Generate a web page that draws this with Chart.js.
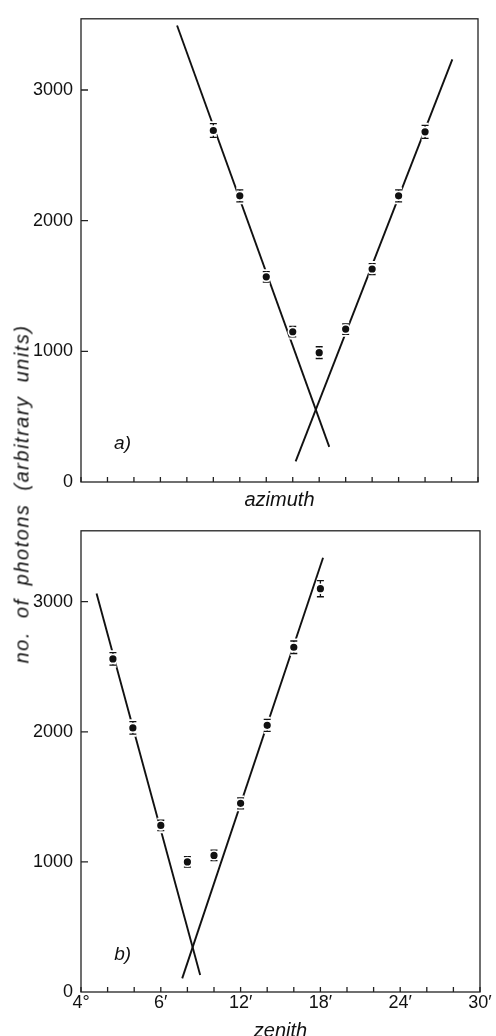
<!DOCTYPE html>
<html>
<head>
<meta charset="utf-8">
<script src="https://cdn.jsdelivr.net/npm/chart.js@4.4.0/dist/chart.umd.min.js"></script>
<style>
  body { margin: 0; background: #fff; }
  #wrap { position: relative; width: 496px; height: 1036px; }
  .box { position: absolute; left: 0; width: 496px; }
  #topBox { top: 0; height: 512px; }
  #botBox { top: 512px; height: 524px; }
  #ytitle {
    position: absolute; left: 22px; top: 494px;
    transform: translate(-50%, -50%) rotate(-90deg);
    font: italic 20px "Liberation Sans", Arial, sans-serif;
    letter-spacing: 1.5px; word-spacing: 6px;
    white-space: nowrap; color: #111;
  }
</style>
</head>
<body>
<div id="wrap">
  <div class="box" id="topBox"><canvas id="azChart"></canvas></div>
  <div class="box" id="botBox"><canvas id="zenChart"></canvas></div>
  <div id="ytitle">no. of photons (arbitrary units)</div>
</div>
<script>
// x in arc minutes past 4°
const tickValues = [0, 6, 12, 18, 24, 30];
const tickLabels = ["4°", "6′", "12′", "18′", "24′", "30′"];
const yTickValues = [0, 1000, 2000, 3000];

// a) azimuth
const azX = [10, 12, 14, 16, 18, 20, 22, 24, 26];
const azY = [2690, 2190, 1570, 1150, 990, 1170, 1630, 2190, 2680];
const azErr = [52, 46, 40, 40, 45, 40, 42, 46, 50];
const azFitLeftX = [7.26, 18.76];
const azFitLeftY = [3494, 269];
const azFitRightX = [16.22, 28.06];
const azFitRightY = [158, 3235];

// b) zenith
const zenX = [2.4, 3.9, 6, 8, 10, 12, 14, 16, 18];
const zenY = [2560, 2030, 1280, 1000, 1050, 1450, 2050, 2650, 3100];
const zenErr = [48, 48, 40, 40, 40, 42, 46, 48, 62];
const zenFitLeftX = [1.17, 8.96];
const zenFitLeftY = [3064, 131];
const zenFitRightX = [7.61, 18.2];
const zenFitRightY = [105, 3338];

const ink = "#111";
Chart.defaults.font.family = '"Liberation Sans", Arial, sans-serif';
Chart.defaults.color = ink;

function pts(xs, ys) {
  return xs.map((x, i) => ({ x: x, y: ys[i] }));
}

// box around plot area + inward tick marks
const frameTicks = {
  id: "frameTicks",
  afterDraw(chart) {
    const { ctx, chartArea: a, scales: { x, y } } = chart;
    ctx.save();
    ctx.strokeStyle = "#222";
    ctx.lineWidth = 1.3;
    ctx.strokeRect(a.left, a.top, a.right - a.left, a.bottom - a.top);
    ctx.beginPath();
    x.ticks.forEach((t) => {
      const px = x.getPixelForValue(t.value);
      ctx.moveTo(px, a.bottom);
      ctx.lineTo(px, a.bottom - 5);
    });
    yTickValues.forEach((v) => {
      if (v === 0) return;
      const py = y.getPixelForValue(v);
      ctx.moveTo(a.left, py);
      ctx.lineTo(a.left + 7, py);
    });
    ctx.stroke();
    ctx.restore();
  },
};

// error bars, drawn just before the points dataset (index 0)
const errorBars = {
  id: "errorBars",
  beforeDatasetDraw(chart, args, opts) {
    if (args.index !== 0) return;
    const { ctx, scales: { x, y } } = chart;
    const data = chart.data.datasets[0].data;
    const draw = (w, color) => {
      ctx.strokeStyle = color;
      ctx.lineWidth = w;
      ctx.beginPath();
      data.forEach((p, i) => {
        const px = x.getPixelForValue(p.x);
        const y1 = y.getPixelForValue(p.y + opts.errors[i]);
        const y0 = y.getPixelForValue(p.y - opts.errors[i]);
        ctx.moveTo(px, y1); ctx.lineTo(px, y0);
        ctx.moveTo(px - 3.5, y1); ctx.lineTo(px + 3.5, y1);
        ctx.moveTo(px - 3.5, y0); ctx.lineTo(px + 3.5, y0);
      });
      ctx.stroke();
    };
    ctx.save();
    draw(5, "#fff");
    draw(1.3, ink);
    ctx.restore();
  },
};

const panelLabel = {
  id: "panelLabel",
  afterDraw(chart, args, opts) {
    const { ctx, scales: { x, y } } = chart;
    ctx.save();
    ctx.font = 'italic 19px "Liberation Sans", Arial, sans-serif';
    ctx.fillStyle = ink;
    ctx.textBaseline = "middle";
    ctx.fillText(opts.text, x.getPixelForValue(opts.x), y.getPixelForValue(opts.y));
    ctx.restore();
  },
};

function makeChart(id, o) {
  const fitLine = (d) => ({
    data: d,
    showLine: true,
    borderColor: ink,
    borderWidth: 1.9,
    pointRadius: 0,
  });
  return new Chart(document.getElementById(id), {
    type: "scatter",
    data: {
      datasets: [
        {
          data: o.points,
          pointRadius: 4.4,
          backgroundColor: ink,
          borderColor: "#fff",
          borderWidth: 1.6,
        },
        fitLine(o.left),
        fitLine(o.right),
      ],
    },
    options: {
      responsive: true,
      maintainAspectRatio: false,
      animation: false,
      events: [],
      layout: { padding: o.padding },
      plugins: {
        legend: { display: false },
        tooltip: { enabled: false },
        errorBars: { errors: o.errors },
        panelLabel: o.label,
      },
      scales: {
        x: {
          type: "linear",
          min: 0,
          max: 30,
          grid: { display: false, drawTicks: false },
          border: { display: false },
          ticks: {
            display: o.showXLabels,
            stepSize: 2,
            autoSkip: false,
            maxRotation: 0,
            padding: 0,
            font: { size: 18 },
            callback: (v) => {
              const i = tickValues.indexOf(v);
              return i >= 0 ? tickLabels[i] : "";
            },
          },
          title: {
            display: true,
            text: o.xTitle,
            font: { size: 20, style: "italic", lineHeight: o.titleLH },
            padding: { top: 0, bottom: o.titlePad },
          },
          afterFit: (s) => { s.height = o.xHeight; },
        },
        y: {
          min: 0,
          max: 3545,
          grid: { display: false, drawTicks: false },
          border: { display: false },
          ticks: {
            autoSkip: false,
            padding: 8,
            font: { size: 18 },
            callback: (v) => String(v),
          },
          afterBuildTicks: (s) => {
            s.ticks = yTickValues.map((v) => ({ value: v }));
          },
          afterFit: (s) => { s.width = 81; },
        },
      },
    },
    plugins: [frameTicks, errorBars, panelLabel],
  });
}

makeChart("azChart", {
  points: pts(azX, azY),
  errors: azErr,
  left: pts(azFitLeftX, azFitLeftY),
  right: pts(azFitRightX, azFitRightY),
  padding: { top: 13, right: 18, left: 0, bottom: 0 },
  showXLabels: false,
  xTitle: "azimuth",
  titleLH: 1.2,
  titlePad: 0,
  xHeight: 30,
  label: { text: "a)", x: 2.5, y: 290 },
});

makeChart("zenChart", {
  points: pts(zenX, zenY),
  errors: zenErr,
  left: pts(zenFitLeftX, zenFitLeftY),
  right: pts(zenFitRightX, zenFitRightY),
  padding: { top: 10, right: 16, left: 0, bottom: 0 },
  showXLabels: true,
  xTitle: "zenith",
  titleLH: 0.5,
  titlePad: 0,
  xHeight: 44,
  label: { text: "b)", x: 2.5, y: 290 },
});
</script>
</body>
</html>
